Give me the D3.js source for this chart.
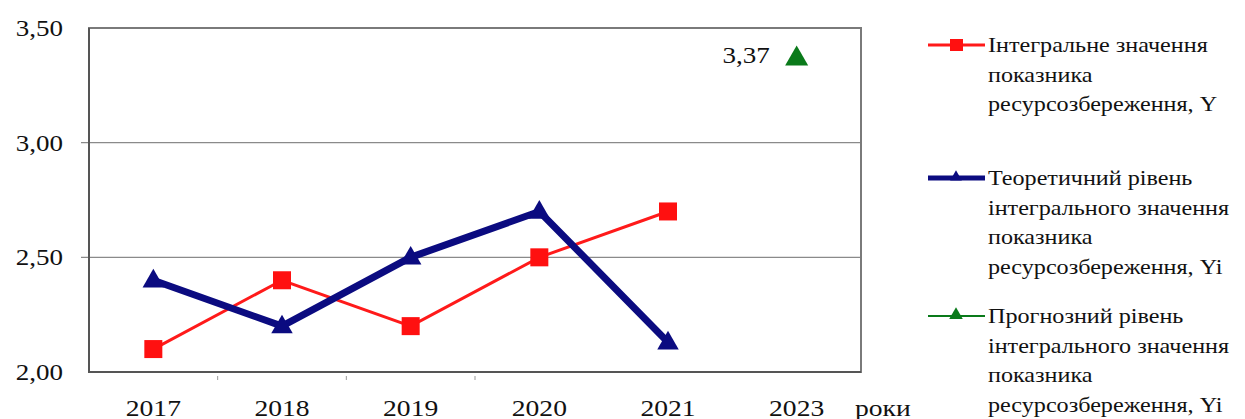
<!DOCTYPE html>
<html>
<head>
<meta charset="utf-8">
<script src="https://cdn.jsdelivr.net/npm/d3@7"></script>
<style>
  html, body { margin: 0; padding: 0; background: #fff; }
  svg { display: block; }
  text { font-family: "Liberation Serif", "Times New Roman", serif; fill: #111; }
</style>
</head>
<body>
<svg id="chart" width="1245" height="419"></svg>
<script>
// Years on the category axis
const years = ["2017", "2018", "2019", "2020", "2021", "2023"];
// Integral value of the resource-saving indicator, Y
const actualYears = ["2017", "2018", "2019", "2020", "2021"];
const actualValues = [2.10, 2.40, 2.20, 2.50, 2.70];
// Theoretical level, Yi
const theoryYears = ["2017", "2018", "2019", "2020", "2021"];
const theoryValues = [2.40, 2.20, 2.50, 2.70, 2.13];
// Forecast level
const forecastYears = ["2023"];
const forecastValues = [3.37];
// Y axis ticks
const yTicks = [2.00, 2.50, 3.00, 3.50];

const legendItems = [
  { lines: ["Інтегральне значення", "показника", "ресурсозбереження, Y"], key: "actual" },
  { lines: ["Теоретичний рівень", "інтегрального значення", "показника", "ресурсозбереження, Yi"], key: "theory" },
  { lines: ["Прогнозний рівень", "інтегрального значення", "показника", "ресурсозбереження,  Yi"], key: "forecast" }
];

const svg = d3.select("#chart");
const plotL = 89, plotR = 861, plotT = 28, plotB = 372;
const SX = 1.15; // horizontal stretch of the serif lettering

const x = d3.scaleBand().domain(years).range([plotL, plotR]);
const cx = d => x(d) + x.bandwidth() / 2;
const y = d3.scaleLinear().domain([2.0, 3.5]).range([plotB, plotT]);

const fmt = v => d3.format(".2f")(v).replace(".", ",");

function stretchedText(g, tx, ty, str, size, anchor) {
  return g.append("text")
    .attr("transform", `translate(${tx},${ty}) scale(${SX},1)`)
    .attr("text-anchor", anchor || "start")
    .style("font-size", size + "px")
    .text(str);
}

// Gridlines (inner ticks) with outward tick marks
const grid = svg.append("g");
grid.selectAll("line").data(yTicks.filter(t => t > 2.0 && t < 3.5)).join("line")
  .attr("x1", plotL - 8).attr("x2", plotR)
  .attr("y1", d => y(d)).attr("y2", d => y(d))
  .attr("stroke", "#8a8a8a").attr("stroke-width", 1.2);

// Plot frame
svg.append("rect")
  .attr("x", plotL).attr("y", plotT)
  .attr("width", plotR - plotL).attr("height", plotB - plotT)
  .attr("fill", "none").attr("stroke", "#7a7a7a").attr("stroke-width", 2);
svg.append("path")
  .attr("d", `M${plotL},${plotT}V${plotB}H${plotR}`)
  .attr("fill", "none").attr("stroke", "#555").attr("stroke-width", 2);

// Y tick labels
const yl = svg.append("g");
yTicks.forEach(t => {
  stretchedText(yl, 63, y(t) + 8, fmt(t), 23.5, "end");
});

// Small category separators below the axis
const sepYears = years.slice(1, 4);
svg.append("g").selectAll("line").data(sepYears).join("line")
  .attr("x1", d => x(d)).attr("x2", d => x(d))
  .attr("y1", plotB + 4).attr("y2", plotB + 8)
  .attr("stroke", "#999").attr("stroke-width", 1);

// X labels
const xl = svg.append("g");
years.forEach(yr => stretchedText(xl, cx(yr), 416, yr, 24, "middle"));
stretchedText(xl, 855, 416, "роки", 24, "start");

// Series
const line = d3.line().x(d => cx(d[0])).y(d => y(d[1]));
const tri = d3.symbol().type(d3.symbolTriangle);

const actual = actualYears.map((yr, i) => [yr, actualValues[i]]);
const theory = theoryYears.map((yr, i) => [yr, theoryValues[i]]);
const forecast = forecastYears.map((yr, i) => [yr, forecastValues[i]]);

svg.append("path").datum(actual).attr("d", line)
  .attr("fill", "none").attr("stroke", "#ff1a1a").attr("stroke-width", 3);
svg.append("path").datum(theory).attr("d", line)
  .attr("fill", "none").attr("stroke", "#0b0b80").attr("stroke-width", 7)
  .attr("stroke-linejoin", "miter");

svg.append("g").selectAll("rect").data(actual).join("rect")
  .attr("x", d => cx(d[0]) - 9).attr("y", d => y(d[1]) - 9)
  .attr("width", 18).attr("height", 18).attr("fill", "#ff1010");

svg.append("g").selectAll("path").data(theory).join("path")
  .attr("transform", d => `translate(${cx(d[0])},${y(d[1]) + 1})`)
  .attr("d", tri.size(200)()).attr("fill", "#0b0b80");

svg.append("g").selectAll("path").data(forecast).join("path")
  .attr("transform", d => `translate(${cx(d[0])},${y(d[1]) + 1})`)
  .attr("d", tri.size(230)()).attr("fill", "#0a7a1a");

// Forecast value label
const lbl = svg.append("g");
forecast.forEach(d => stretchedText(lbl, cx(d[0]) - 27, y(d[1]) + 5, fmt(d[1]), 23.5, "end"));

// Legend
const lg = svg.append("g");
const starts = [45, 178, 316];
const lh = 29.5;
legendItems.forEach((item, i) => {
  const cy = starts[i];
  const g = lg.append("g");
  if (item.key === "actual") {
    g.append("line").attr("x1", 928).attr("x2", 985).attr("y1", cy).attr("y2", cy)
      .attr("stroke", "#ff1a1a").attr("stroke-width", 3);
    g.append("rect").attr("x", 950).attr("y", cy - 6).attr("width", 13).attr("height", 12).attr("fill", "#ff1010");
  } else if (item.key === "theory") {
    g.append("line").attr("x1", 928).attr("x2", 985).attr("y1", cy).attr("y2", cy)
      .attr("stroke", "#0b0b80").attr("stroke-width", 5);
    g.append("path").attr("transform", `translate(956,${cy - 1})`).attr("d", tri.size(60)()).attr("fill", "#0b0b80");
  } else {
    g.append("line").attr("x1", 928).attr("x2", 985).attr("y1", cy).attr("y2", cy)
      .attr("stroke", "#0a7a1a").attr("stroke-width", 2);
    g.append("path").attr("transform", `translate(956,${cy - 1})`).attr("d", tri.size(80)()).attr("fill", "#0a7a1a");
  }
  item.lines.forEach((t, j) => stretchedText(g, 988, cy + 7 + j * lh, t, 21, "start"));
});
</script>
</body>
</html>
